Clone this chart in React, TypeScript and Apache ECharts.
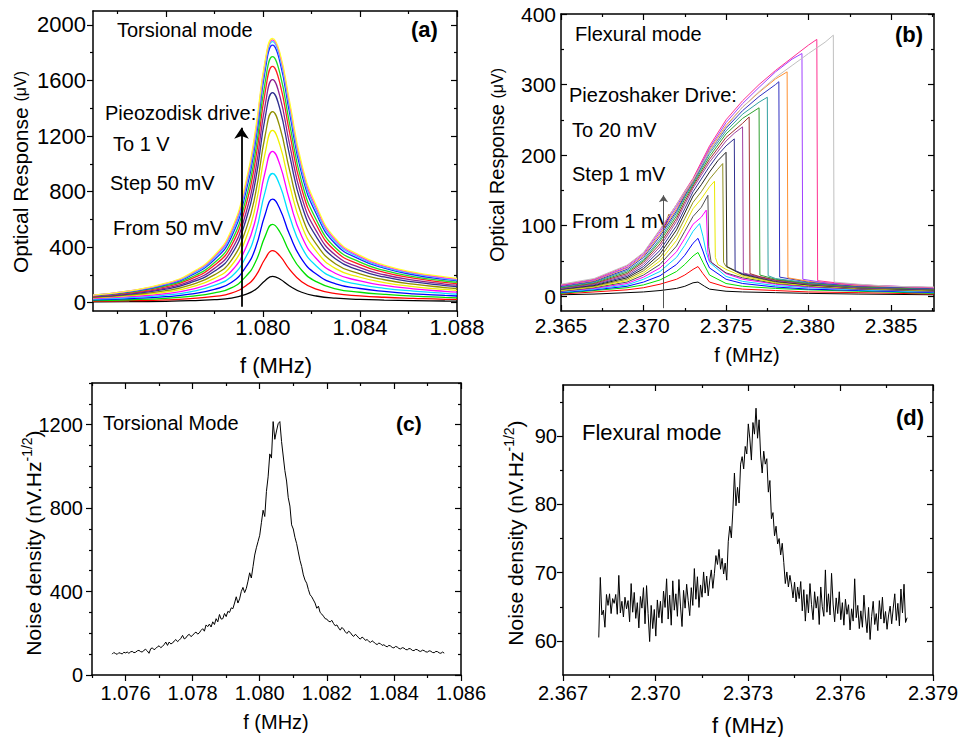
import React, { useEffect, useRef } from "react";
import * as echarts from "echarts";

const FONT = "'Liberation Sans', Arial, Helvetica, sans-serif";

// ---------- Panel (a): torsional mode, optical response (uV) ----------
const A_FREQ = [1.0730, 1.0745, 1.0760, 1.0770, 1.0780, 1.0787, 1.0793, 1.0797, 1.0801, 1.0804, 1.0807, 1.0811, 1.0816, 1.0822, 1.0830, 1.0840, 1.0850, 1.0862, 1.0875, 1.0880];
const A_CURVES = [
  [5, 7, 10, 14, 22, 33, 60, 95, 160, 190, 170, 120, 75, 48, 32, 24, 19, 15, 12, 11],
  [10, 14, 20, 29, 45, 68, 122, 191, 318, 375, 337, 240, 151, 98, 65, 49, 39, 31, 24, 23],
  [15, 21, 31, 45, 70, 106, 189, 294, 481, 564, 509, 366, 233, 151, 100, 75, 60, 47, 38, 35],
  [20, 29, 43, 61, 96, 145, 257, 396, 639, 745, 675, 490, 314, 206, 136, 102, 81, 64, 52, 48],
  [25, 36, 54, 78, 124, 187, 329, 504, 803, 930, 845, 620, 400, 264, 175, 130, 103, 83, 67, 62],
  [29, 43, 65, 94, 149, 226, 396, 602, 946, 1090, 994, 737, 478, 318, 210, 157, 124, 100, 81, 76],
  [34, 50, 76, 110, 175, 266, 462, 698, 1083, 1240, 1136, 849, 555, 371, 245, 183, 145, 116, 95, 89],
  [38, 56, 86, 126, 200, 304, 526, 789, 1209, 1376, 1265, 954, 628, 422, 279, 207, 165, 133, 109, 102],
  [42, 62, 97, 142, 226, 345, 593, 884, 1338, 1513, 1396, 1062, 703, 476, 314, 233, 185, 149, 123, 115],
  [45, 67, 105, 154, 247, 377, 644, 955, 1428, 1606, 1487, 1141, 761, 517, 341, 253, 201, 163, 134, 126],
  [48, 72, 114, 168, 269, 410, 699, 1030, 1522, 1701, 1581, 1224, 820, 561, 370, 274, 218, 176, 146, 137],
  [50, 76, 121, 179, 287, 439, 744, 1091, 1594, 1771, 1653, 1289, 870, 597, 394, 292, 232, 188, 156, 147],
  [53, 80, 129, 192, 309, 472, 796, 1161, 1678, 1854, 1736, 1366, 927, 640, 421, 312, 248, 201, 167, 158],
  [54, 83, 134, 199, 321, 492, 826, 1197, 1712, 1880, 1767, 1402, 956, 663, 436, 323, 256, 209, 174, 165],
  [54, 84, 137, 205, 331, 508, 849, 1225, 1733, 1892, 1785, 1427, 979, 682, 449, 332, 263, 215, 179, 170],
  [55, 85, 140, 210, 340, 523, 870, 1250, 1750, 1902, 1800, 1450, 1000, 700, 460, 340, 270, 220, 185, 175],
];
const A_COLORS = ["#000000", "#ff0000", "#00e000", "#0000ff", "#00e0ff", "#ff00ff", "#f0f000", "#909000", "#303090", "#902090", "#ff2020", "#20e020", "#2020ff", "#20e8ff", "#ff20ff", "#ffff30"];
const A_ARROW = [[1.07912, -30], [1.07912, 1260]];

// ---------- Panel (b): flexural mode, Duffing response (uV) ----------
const B_CURVES = [
  [[2.365, 2], [2.367, 3], [2.369, 5], [2.370, 6], [2.371, 8], [2.372, 11], [2.3725, 14], [2.373, 19], [2.3733, 20], [2.3737, 14], [2.374, 10], [2.375, 7], [2.376, 6], [2.378, 5], [2.380, 4], [2.383, 3], [2.3876, 2]],
  [[2.365, 3], [2.367, 6], [2.369, 9], [2.370, 12], [2.371, 17], [2.372, 24], [2.3725, 30], [2.373, 38], [2.3733, 42], [2.3736, 32], [2.374, 20], [2.375, 13], [2.376, 10], [2.378, 8], [2.380, 6], [2.383, 5], [2.3876, 3]],
  [[2.365, 4], [2.367, 8], [2.369, 12], [2.370, 16], [2.371, 23], [2.372, 35], [2.3725, 45], [2.373, 57], [2.3733, 62], [2.3736, 48], [2.374, 30], [2.375, 18], [2.376, 14], [2.378, 11], [2.380, 9], [2.383, 7], [2.3876, 4]],
  [[2.365, 5], [2.367, 9], [2.369, 14], [2.370, 20], [2.371, 29], [2.372, 45], [2.3725, 58], [2.373, 75], [2.3733, 82], [2.3736, 64], [2.3738, 50], [2.374, 40], [2.375, 24], [2.376, 18], [2.378, 13], [2.380, 10], [2.383, 8], [2.3876, 5]],
  [[2.365, 6], [2.367, 10], [2.369, 16], [2.370, 24], [2.371, 35], [2.372, 55], [2.3725, 72], [2.373, 92], [2.3734, 103], [2.3736, 85], [2.3738, 62], [2.374, 48], [2.375, 28], [2.376, 21], [2.378, 15], [2.380, 12], [2.383, 9], [2.3876, 6]],
  [[2.365, 7], [2.367, 11], [2.369, 18], [2.370, 27], [2.371, 40], [2.372, 63], [2.3725, 82], [2.373, 102], [2.3735, 112], [2.3738, 122], [2.3739, 62], [2.374, 50], [2.375, 32], [2.376, 24], [2.378, 17], [2.380, 13], [2.383, 10], [2.3876, 7]],
  [[2.365, 7], [2.367, 12], [2.369, 20], [2.370, 30], [2.371, 45], [2.372, 71], [2.3725, 92], [2.373, 113], [2.3735, 126], [2.3739, 143], [2.37395, 70], [2.3741, 48], [2.375, 33], [2.376, 26], [2.378, 18], [2.380, 14], [2.383, 10], [2.3876, 7]],
  [[2.365, 8], [2.367, 13], [2.369, 22], [2.370, 33], [2.371, 50], [2.372, 79], [2.3725, 101], [2.373, 124], [2.3735, 138], [2.374, 155], [2.3743, 163], [2.37435, 55], [2.3745, 45], [2.375, 38], [2.376, 28], [2.378, 19], [2.380, 15], [2.383, 11], [2.3876, 8]],
  [[2.365, 9], [2.367, 14], [2.369, 24], [2.370, 36], [2.371, 55], [2.372, 87], [2.3725, 110], [2.373, 133], [2.3735, 148], [2.374, 166], [2.3745, 180], [2.3748, 188], [2.37485, 48], [2.375, 42], [2.376, 30], [2.378, 20], [2.380, 16], [2.383, 11], [2.3876, 8]],
  [[2.365, 10], [2.367, 15], [2.369, 26], [2.370, 39], [2.371, 60], [2.372, 94], [2.3725, 118], [2.373, 142], [2.3735, 158], [2.374, 176], [2.3745, 192], [2.375, 204], [2.37505, 42], [2.376, 31], [2.378, 21], [2.380, 16], [2.383, 12], [2.3876, 9]],
  [[2.365, 10], [2.367, 16], [2.369, 28], [2.370, 42], [2.371, 65], [2.372, 100], [2.3725, 124], [2.373, 148], [2.374, 184], [2.3745, 200], [2.375, 213], [2.3755, 223], [2.37555, 36], [2.376, 32], [2.378, 22], [2.380, 17], [2.383, 12], [2.3876, 9]],
  [[2.365, 11], [2.367, 17], [2.369, 30], [2.370, 45], [2.371, 70], [2.372, 106], [2.3725, 130], [2.373, 153], [2.374, 190], [2.375, 220], [2.3755, 231], [2.376, 240], [2.37605, 33], [2.377, 27], [2.378, 22], [2.380, 17], [2.383, 12], [2.3876, 10]],
  [[2.365, 12], [2.367, 18], [2.369, 32], [2.370, 48], [2.371, 74], [2.372, 110], [2.3725, 134], [2.373, 156], [2.374, 194], [2.375, 225], [2.376, 245], [2.3764, 254], [2.37645, 32], [2.377, 28], [2.378, 23], [2.380, 18], [2.383, 13], [2.3876, 10]],
  [[2.365, 12], [2.367, 19], [2.369, 34], [2.370, 50], [2.371, 78], [2.372, 114], [2.3725, 138], [2.373, 158], [2.374, 198], [2.375, 230], [2.376, 252], [2.377, 267], [2.37705, 30], [2.378, 24], [2.380, 18], [2.383, 13], [2.3876, 10]],
  [[2.365, 13], [2.367, 20], [2.369, 36], [2.370, 52], [2.371, 81], [2.372, 118], [2.3725, 141], [2.373, 160], [2.374, 202], [2.375, 234], [2.376, 258], [2.377, 275], [2.3775, 282], [2.37755, 29], [2.378, 25], [2.380, 19], [2.383, 14], [2.3876, 11]],
  [[2.365, 14], [2.367, 21], [2.369, 38], [2.370, 55], [2.371, 85], [2.372, 121], [2.3725, 143], [2.373, 162], [2.374, 205], [2.375, 238], [2.376, 263], [2.377, 283], [2.378, 300], [2.3782, 304], [2.37825, 27], [2.380, 20], [2.383, 14], [2.3876, 11]],
  [[2.365, 15], [2.367, 22], [2.369, 40], [2.370, 57], [2.371, 88], [2.372, 124], [2.3725, 145], [2.373, 163], [2.374, 208], [2.375, 242], [2.376, 268], [2.377, 289], [2.378, 308], [2.3787, 318], [2.37875, 26], [2.380, 21], [2.383, 15], [2.3876, 12]],
  [[2.365, 15], [2.367, 23], [2.369, 41], [2.370, 59], [2.371, 91], [2.372, 127], [2.3725, 147], [2.373, 165], [2.374, 210], [2.375, 246], [2.376, 273], [2.377, 296], [2.378, 318], [2.379, 336], [2.3796, 344], [2.37965, 24], [2.381, 19], [2.383, 16], [2.3876, 12]],
  [[2.365, 16], [2.367, 24], [2.369, 43], [2.370, 61], [2.371, 94], [2.372, 130], [2.3725, 149], [2.373, 167], [2.374, 213], [2.375, 250], [2.376, 277], [2.377, 300], [2.378, 320], [2.379, 338], [2.380, 356], [2.3805, 364], [2.38055, 22], [2.382, 18], [2.384, 15], [2.3876, 12]],
  [[2.365, 17], [2.367, 25], [2.369, 44], [2.370, 62], [2.371, 95], [2.372, 130], [2.3725, 148], [2.373, 165], [2.374, 205], [2.375, 240], [2.376, 268], [2.377, 290], [2.378, 310], [2.379, 327], [2.380, 344], [2.381, 360], [2.3815, 370], [2.38155, 20], [2.383, 17], [2.385, 14], [2.3876, 13]],
];
const B_COLORS = ["#000000", "#ff0000", "#00e000", "#0000ff", "#00d8ff", "#ff00ff", "#505050", "#e8e800", "#909020", "#202020", "#303090", "#a040a0", "#a03030", "#30a030", "#30a0a0", "#3030c0", "#ff9030", "#a040ff", "#ff3090", "#c0c0c0"];
const B_ARROW = [[2.37121, -17], [2.37121, 143]];

// ---------- Panel (c): torsional mode noise density ----------
const C_START = 1.0756;
const C_STEP = 0.00005;
const C_VALUES = [
  100, 108, 103, 99, 107, 104, 101, 109, 106, 110, 104, 111, 113, 107, 109, 116, 118, 112, 110, 119,
  123, 115, 104, 126, 130, 121, 127, 135, 140, 131, 137, 146, 158, 142, 158, 149, 153, 163, 170, 160,
  167, 176, 190, 173, 178, 190, 195, 184, 190, 200, 206, 196, 202, 214, 222, 210, 240, 232, 244, 230,
  255, 242, 270, 255, 290, 268, 270, 295, 280, 305, 300, 322, 318, 345, 375, 345, 365, 400, 420, 395,
  415, 450, 490, 465, 520, 575, 610, 640, 670, 730, 790, 760, 880, 950, 1060, 1040, 1215, 1130, 1170, 1205,
  1215, 1120, 1050, 980, 930, 850, 810, 720, 700, 660, 630, 590, 550, 520, 480, 455, 440, 410, 385, 375,
  360, 345, 320, 330, 300, 292, 282, 270, 268, 258, 255, 262, 247, 236, 240, 226, 215, 228, 220, 207,
  199, 210, 204, 192, 185, 195, 188, 178, 172, 182, 176, 166, 170, 162, 156, 164, 158, 150, 146, 153,
  150, 142, 145, 139, 135, 142, 139, 132, 130, 137, 134, 127, 125, 131, 129, 122, 121, 127, 125, 118,
  117, 123, 121, 115, 113, 119, 117, 111, 110, 116, 114, 108, 107, 113, 112, 106, 104, 110, 105,
];

// ---------- Panel (d): flexural mode noise density ----------
const D_START = 2.36816;
const D_STEP = 0.00005;
const D_VALUES = [
  60.5, 69.3, 63.8, 64.5, 62.0, 66.8, 65.2, 66.9, 64.0, 66.2,
  65.5, 66.8, 63.9, 69.6, 64.1, 65.8, 63.5, 66.4, 64.7, 65.9,
  62.8, 68.4, 64.2, 67.1, 63.3, 65.6, 61.9, 66.5, 64.8, 67.8,
  62.5, 68.1, 64.0, 59.9, 65.2, 61.8, 64.6, 60.7, 66.0, 63.4,
  65.8, 62.6, 67.3, 64.9, 69.1, 63.2, 66.7, 62.3, 68.8, 64.5,
  66.9, 63.6, 69.0, 65.1, 62.1, 67.4, 64.8, 68.3, 65.9, 63.7,
  67.8, 65.2, 70.6, 66.1, 69.4, 64.9, 68.2, 66.4, 70.1, 67.0,
  69.5, 66.6, 68.9, 70.4, 67.7, 69.9, 72.5, 71.2, 73.4, 70.5,
  72.1, 69.8, 71.4, 68.9, 74.6, 76.8, 75.1, 79.2, 84.6, 79.8,
  82.5, 80.2, 85.9, 87.0, 85.2, 88.5, 87.4, 91.8, 89.6, 86.5,
  92.0, 90.3, 94.1, 89.7, 92.4, 87.1, 84.6, 87.8, 85.9, 86.7,
  81.8, 83.5, 77.9, 78.8, 75.4, 76.8, 74.2, 75.0, 72.6, 74.3,
  71.5, 68.4, 70.1, 67.9, 69.6, 68.2, 66.3, 68.6, 65.7, 67.9,
  66.2, 68.7, 64.4, 67.5, 62.9, 66.8, 64.1, 68.4, 65.3, 63.1,
  67.2, 64.8, 66.5, 62.4, 67.9, 65.0, 63.6, 70.4, 64.2, 66.9,
  63.8, 69.9, 65.4, 62.8, 66.3, 64.0, 67.2, 63.1, 65.6, 62.3,
  66.1, 63.9, 65.3, 61.6, 64.7, 62.9, 69.1, 63.4, 65.2, 61.8,
  64.4, 62.0, 66.7, 63.5, 61.2, 64.9, 60.2, 63.6, 65.8, 62.4,
  64.0, 61.5, 65.9, 63.2, 66.4, 62.6, 64.3, 61.7, 63.8, 65.1,
  62.5, 64.8, 66.9, 63.0, 65.5, 62.2, 67.6, 64.1, 68.3, 62.7,
  63.4,
];

// ---------- Axis tick / label lists ----------
const A_X_MAJOR = [1.076, 1.080, 1.084, 1.088];
const A_X_MINOR = [1.074, 1.078, 1.082, 1.086];
const A_Y_MAJOR = [0, 400, 800, 1200, 1600, 2000];
const A_Y_MINOR = [200, 600, 1000, 1400, 1800];
const B_X_MAJOR = [2.365, 2.370, 2.375, 2.380, 2.385];
const B_X_MINOR = [2.3675, 2.3725, 2.3775, 2.3825, 2.3875];
const B_Y_MAJOR = [0, 100, 200, 300, 400];
const B_Y_MINOR = [50, 150, 250, 350];
const C_X_MAJOR = [1.076, 1.078, 1.080, 1.082, 1.084, 1.086];
const C_X_MINOR = [1.075, 1.077, 1.079, 1.081, 1.083, 1.085];
const C_Y_MAJOR = [0, 400, 800, 1200];
const C_Y_MINOR = [100, 200, 300, 500, 600, 700, 900, 1000, 1100, 1300, 1400];
const D_X_MAJOR = [2.367, 2.370, 2.373, 2.376, 2.379];
const D_X_MINOR = [2.3685, 2.3715, 2.3745, 2.3775];
const D_Y_MAJOR = [60, 70, 80, 90];
const D_Y_MINOR = [65, 75, 85, 95];

const fmt3 = (v: number) => v.toFixed(3);
const fmt0 = (v: number) => String(Math.round(v));

type Spec = {
  min: number; max: number; major: number[]; minor: number[];
  fmt: (v: number) => string; fontSize: number; margin: number; out: boolean;
};

function axesFor(dim: "x" | "y", g: number, s: Spec) {
  const common = { type: "value", gridIndex: g, min: s.min, max: s.max, splitLine: { show: false }, splitArea: { show: false } };
  const line = { show: true, onZero: false, lineStyle: { color: "#000", width: 1.5 } };
  const noLine = { show: false, onZero: false };
  const p1 = dim === "x" ? "bottom" : "left";
  const p2 = dim === "x" ? "top" : "right";
  const tickStyle = { color: "#000", width: 1.2 };
  return [
    {
      ...common, position: p1, axisLine: line,
      axisTick: { show: true, inside: !s.out, length: 6, customValues: s.major, lineStyle: tickStyle },
      axisLabel: { show: true, customValues: s.major, margin: s.margin, fontSize: s.fontSize, fontFamily: FONT, color: "#000", formatter: s.fmt },
    },
    {
      ...common, position: p1, axisLine: noLine,
      axisTick: { show: true, inside: !s.out, length: 3, customValues: s.minor, lineStyle: tickStyle },
      axisLabel: { show: false },
    },
    {
      ...common, position: p2, axisLine: line,
      axisTick: { show: true, inside: true, length: 6, customValues: s.major, lineStyle: tickStyle },
      axisLabel: { show: false },
    },
    {
      ...common, position: p2, axisLine: noLine,
      axisTick: { show: true, inside: true, length: 3, customValues: s.minor, lineStyle: tickStyle },
      axisLabel: { show: false },
    },
  ];
}

function txt(x: number, y: number, text: string, fontSize = 20, bold = false) {
  return {
    type: "text", x, y, silent: true,
    style: { text, fontSize, fontFamily: FONT, fontWeight: bold ? "bold" : "normal", fill: "#000", align: "left", verticalAlign: "middle" },
  };
}

function ctxt(x: number, y: number, text: string, fontSize: number) {
  return {
    type: "text", x, y, silent: true,
    style: { text, fontSize, fontFamily: FONT, fill: "#000", align: "center", verticalAlign: "middle" },
  };
}

function vtxt(x: number, y: number, text: string, rich: any) {
  return {
    type: "text", x, y, rotation: Math.PI / 2, silent: true,
    style: { text, rich, fontFamily: FONT, fill: "#000", align: "center", verticalAlign: "middle" },
  };
}

function arrowLine(coords: number[][], color: string, width: number, size: number) {
  return {
    silent: true,
    symbol: ["none", "arrow"],
    symbolSize: size,
    label: { show: false },
    emphasis: { disabled: true },
    lineStyle: { color, width, type: "solid" },
    data: [[{ coord: coords[0] }, { coord: coords[1] }]],
  };
}

function buildOption() {
  const series: any[] = [];
  A_CURVES.forEach((vals, k) => {
    const s: any = {
      type: "line", xAxisIndex: 0, yAxisIndex: 0, showSymbol: false, smooth: 0.5,
      data: A_FREQ.map((f, i) => [f, vals[i]]),
      lineStyle: { color: A_COLORS[k], width: 1.3 }, itemStyle: { color: A_COLORS[k] },
      emphasis: { disabled: true }, z: 2,
    };
    if (k === 0) s.markLine = arrowLine(A_ARROW, "#000", 1.8, 11);
    series.push(s);
  });
  B_CURVES.forEach((pts, k) => {
    const s: any = {
      type: "line", xAxisIndex: 4, yAxisIndex: 4, showSymbol: false, smooth: false,
      data: pts,
      lineStyle: { color: B_COLORS[k], width: 1 }, itemStyle: { color: B_COLORS[k] },
      emphasis: { disabled: true }, z: 2,
    };
    if (k === 0) s.markLine = arrowLine(B_ARROW, "#555", 1, 7);
    series.push(s);
  });
  series.push({
    type: "line", xAxisIndex: 8, yAxisIndex: 8, showSymbol: false,
    data: C_VALUES.map((v, i) => [C_START + i * C_STEP, v]),
    lineStyle: { color: "#000", width: 1 }, emphasis: { disabled: true },
  });
  series.push({
    type: "line", xAxisIndex: 12, yAxisIndex: 12, showSymbol: false,
    data: D_VALUES.map((v, i) => [D_START + i * D_STEP, v]),
    lineStyle: { color: "#000", width: 1 }, emphasis: { disabled: true },
  });

  const gridBase = { containLabel: false, outerBoundsMode: "none", show: false };
  const xAxis = [
    ...axesFor("x", 0, { min: 1.073, max: 1.088, major: A_X_MAJOR, minor: A_X_MINOR, fmt: fmt3, fontSize: 22, margin: 5, out: true }),
    ...axesFor("x", 1, { min: 2.365, max: 2.3876, major: B_X_MAJOR, minor: B_X_MINOR, fmt: fmt3, fontSize: 21, margin: 4, out: false }),
    ...axesFor("x", 2, { min: 1.075, max: 1.086, major: C_X_MAJOR, minor: C_X_MINOR, fmt: fmt3, fontSize: 20, margin: 8, out: true }),
    ...axesFor("x", 3, { min: 2.367, max: 2.379, major: D_X_MAJOR, minor: D_X_MINOR, fmt: fmt3, fontSize: 20, margin: 8, out: true }),
  ];
  const yAxis = [
    ...axesFor("y", 0, { min: -60, max: 2100, major: A_Y_MAJOR, minor: A_Y_MINOR, fmt: fmt0, fontSize: 22, margin: 7, out: true }),
    ...axesFor("y", 1, { min: -21, max: 400, major: B_Y_MAJOR, minor: B_Y_MINOR, fmt: fmt0, fontSize: 21, margin: 5, out: false }),
    ...axesFor("y", 2, { min: 0, max: 1400, major: C_Y_MAJOR, minor: C_Y_MINOR, fmt: fmt0, fontSize: 20, margin: 9, out: true }),
    ...axesFor("y", 3, { min: 55, max: 97.5, major: D_Y_MAJOR, minor: D_Y_MINOR, fmt: fmt0, fontSize: 20, margin: 6, out: true }),
  ];

  const supRich = {
    a: { fontSize: 21, fontFamily: FONT, fill: "#000", lineHeight: 26 },
    s: { fontSize: 14, fontFamily: FONT, fill: "#000", verticalAlign: "top", lineHeight: 26 },
  };
  const uvRich = {
    a: { fontSize: 21, fontFamily: FONT, fill: "#000" },
    b: { fontSize: 16, fontFamily: FONT, fill: "#000" },
  };
  const uvRichB = {
    a: { fontSize: 20, fontFamily: FONT, fill: "#000" },
    b: { fontSize: 16, fontFamily: FONT, fill: "#000" },
  };

  const graphic = [
    // panel (a)
    txt(117, 30, "Torsional mode"),
    txt(411, 29, "(a)", 22, true),
    txt(105, 113, "Pieozodisk drive:"),
    txt(113, 144, "To 1 V"),
    txt(110, 183, "Step 50 mV"),
    txt(113, 228, "From 50 mV"),
    ctxt(276, 365, "f (MHz)", 22),
    vtxt(20, 172, "{a|Optical Response }{b|(\u03bcV)}", uvRich),
    // panel (b)
    txt(575, 34, "Flexural mode"),
    txt(895, 34, "(b)", 22, true),
    txt(569, 95, "Piezoshaker Drive:"),
    txt(572, 130, "To 20 mV"),
    txt(572, 174, "Step 1 mV"),
    txt(572, 221, "From 1 mV"),
    ctxt(747, 355, "f (MHz)", 20),
    vtxt(497, 165, "{a|Optical Response }{b|(\u03bcV)}", uvRichB),
    // panel (c)
    txt(103, 423, "Torsional Mode"),
    txt(396, 423, "(c)", 21, true),
    ctxt(276, 722, "f (MHz)", 20),
    vtxt(33, 543, "{a|Noise density (nV.Hz}{s|-1/2}{a|)}", supRich),
    // panel (d)
    txt(582, 432, "Flexural mode", 22),
    txt(896, 417, "(d)", 22, true),
    ctxt(748, 725, "f (MHz)", 22),
    vtxt(515, 533, "{a|Noise density (nV.Hz}{s|-1/2}{a|)}", supRich),
  ];

  return {
    animation: false,
    backgroundColor: "#ffffff",
    textStyle: { fontFamily: FONT },
    grid: [
      { ...gridBase, left: 93, top: 11, width: 364, height: 300 },
      { ...gridBase, left: 561, top: 14, width: 373, height: 297 },
      { ...gridBase, left: 92, top: 383, width: 369, height: 292 },
      { ...gridBase, left: 563, top: 385, width: 370, height: 290 },
    ],
    xAxis,
    yAxis,
    series,
    graphic,
  };
}

export default function App() {
  const ref = useRef<HTMLDivElement>(null);
  useEffect(() => {
    if (!ref.current) return;
    const chart = echarts.init(ref.current, null, { renderer: "svg", width: 959, height: 737 });
    chart.setOption(buildOption() as any);
    return () => chart.dispose();
  }, []);
  return (
    <div
      ref={ref}
      style={{ position: "fixed", left: 0, top: 0, width: 959, height: 737, background: "#fff" }}
    />
  );
}
